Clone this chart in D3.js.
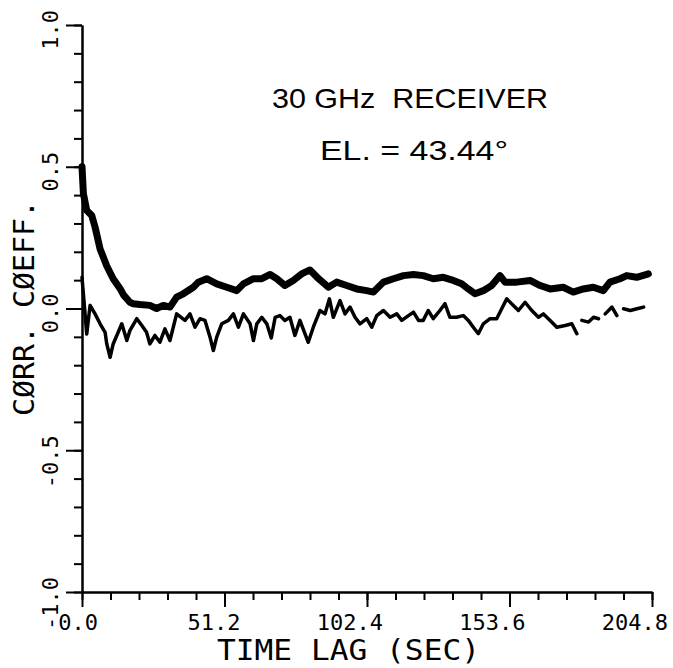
<!DOCTYPE html>
<html>
<head>
<meta charset="utf-8">
<script src="https://cdn.jsdelivr.net/npm/d3@7"></script>
<style>
  html, body { margin: 0; padding: 0; background: #fff; }
  svg { display: block; }
  .tick-label { font-family: "DejaVu Sans Mono", monospace; font-size: 22px; fill: #000; }
  .axis-title { font-family: "DejaVu Sans Mono", monospace; fill: #000; }
  .note { font-family: "Liberation Sans", Arial, sans-serif; font-size: 28px; fill: #000; }
</style>
</head>
<body>
<svg id="chart" width="673" height="668"></svg>
<script>
// Correlation coefficient vs. time lag, 30 GHz receiver
const xTickLabels = ["0.0", "51.2", "102.4", "153.6", "204.8"];
const yTickLabels = ["-1.0", "-0.5", "0.0", "0.5", "1.0"];

// Upper trace (heavy line)
const upperLag = [0, 0.5, 1.7, 3.5, 4.7, 6.5, 8.9, 11.2, 13.7, 14.9, 17.2, 18.4, 20.8, 24.4, 26.8, 29.2,
  31.6, 34.0, 36.4, 40.0, 41.8, 44.8, 48.4, 52.0, 55.6, 58.0, 61.6, 64.6, 67.6, 70.0, 72.9,
  75.9, 78.9, 81.9, 85.0, 88.5, 91.5, 95.1, 98.7, 102.3, 104.7, 108.3, 111.9, 115.5, 119.1, 122.6,
  126.2, 129.8, 133.4, 136.4, 138.8, 141.2, 144.2, 147.2, 150.2, 152.0, 156.2, 161.0, 164.6, 168.2,
  172.9, 176.5, 180.1, 183.7, 187.3, 189.7, 193.3, 195.7, 199.3, 203.5];
const upperCoeff = [0.50, 0.405, 0.346, 0.328, 0.287, 0.210, 0.150, 0.105, 0.070, 0.048, 0.022, 0.017, 0.014, 0.011, 0.0, 0.011,
  0.005, 0.040, 0.052, 0.075, 0.093, 0.105, 0.087, 0.075, 0.063, 0.087, 0.105, 0.105, 0.120, 0.105, 0.081,
  0.099, 0.122, 0.136, 0.105, 0.075, 0.093, 0.081, 0.069, 0.063, 0.058, 0.093, 0.105, 0.116, 0.120, 0.116,
  0.105, 0.110, 0.099, 0.087, 0.069, 0.052, 0.063, 0.081, 0.116, 0.093, 0.093, 0.099, 0.081, 0.069,
  0.075, 0.058, 0.069, 0.075, 0.063, 0.093, 0.105, 0.116, 0.110, 0.122];

// Lower trace (light line); null marks a pen lift
const lowerLag = [0, 1.7, 2.9, 4.7, 6.5, 8.3, 8.9, 10.1, 11.2, 13.0, 14.3, 16.1, 17.2, 19.7, 21.5,
  23.2, 24.4, 26.2, 28.0, 29.8, 31.6, 34.0, 37.0, 38.8, 40.6, 42.4, 44.2, 46.0, 47.2, 48.4,
  50.2, 52.6, 54.4, 56.2, 58.0, 60.4, 61.6, 62.8, 64.6, 66.4, 68.0, 69.4, 71.1, 72.9, 74.7,
  76.5, 78.3, 80.1, 81.3, 83.1, 85.5, 87.3, 88.9, 90.3, 92.7, 94.5, 96.3, 98.1, 99.9,
  102.3, 104.1, 105.9, 108.3, 110.7, 113.1, 114.9, 117.3, 119.1, 120.9, 122.6, 124.4, 126.2, 128.6,
  130.4, 132.2, 134.6, 137.0, 138.8, 140.6, 142.4, 144.2, 146.6, 149.0, 150.8, 152.6, 155.0, 156.8,
  159.2, 161.6, 164.0, 165.8, 168.2, 170.6, 173.6, 176.0, 177.8, 178.9, 179.6, 182.0, 183.8, 185.6, 187.0, 188.0,
  190.4, 192.2, 193.4, 194.6, 197.0, 199.4, 201.8];
const lowerCoeff = [0.11, -0.09, 0.011, -0.019, -0.054, -0.084, -0.125, -0.172, -0.125, -0.084, -0.054, -0.113, -0.078, -0.036, -0.060,
  -0.084, -0.125, -0.095, -0.119, -0.072, -0.113, -0.019, -0.042, -0.019, -0.066, -0.036, -0.042, -0.101, -0.148, -0.101,
  -0.054, -0.042, -0.019, -0.066, -0.019, -0.054, -0.113, -0.054, -0.031, -0.054, -0.104, -0.031, -0.025, -0.042, -0.031,
  -0.095, -0.042, -0.089, -0.119, -0.066, -0.007, -0.019, 0.034, -0.031, 0.028, -0.019, 0.005, -0.031, -0.054,
  -0.036, -0.066, -0.025, -0.007, -0.031, -0.019, -0.042, -0.025, -0.013, -0.042, -0.042, -0.007, -0.036, -0.007,
  0.017, -0.031, -0.031, -0.025, -0.042, -0.066, -0.089, -0.054, -0.036, -0.036, -0.001, 0.034, 0.011, -0.007,
  0.022, -0.007, -0.031, -0.019, -0.042, -0.066, -0.060, -0.054, -0.089, null, -0.042, -0.048, -0.031, -0.036, null, -0.019,
  0.005, -0.025, null, -0.001, -0.007, -0.001, 0.005];

const svg = d3.select("#chart");

const x = d3.scaleLinear().domain([0, 204.8]).range([82, 652]);
const y = d3.scaleLinear().domain([-1, 1]).range([592, 25]);

const xMajor = xTickLabels.map(Number);
const yMajor = yTickLabels.map(Number);
const xMinor = d3.range(0, 21).map(i => i * 10.24);
const yMinor = d3.range(0, 21).map(i => -1 + i * 0.1);

function styleAxis(g) {
  g.selectAll("path, line").attr("stroke", "#000").attr("stroke-width", 2);
  g.selectAll("text").remove();
}

// Y axis: short ticks every 0.1, long ticks every 0.5
svg.append("g").attr("transform", "translate(82,0)")
  .call(d3.axisLeft(y).tickValues(yMinor).tickSize(8).tickSizeOuter(0).tickFormat(""))
  .call(styleAxis);
svg.append("g").attr("transform", "translate(82,0)")
  .call(d3.axisLeft(y).tickValues(yMajor).tickSize(16).tickSizeOuter(0).tickFormat(""))
  .call(styleAxis);

// X axis: short ticks every 10.24 s, long ticks every 51.2 s
svg.append("g").attr("transform", "translate(0,592)")
  .call(d3.axisBottom(x).tickValues(xMinor).tickSize(8).tickSizeOuter(0).tickFormat(""))
  .call(styleAxis);
svg.append("g").attr("transform", "translate(0,592)")
  .call(d3.axisBottom(x).tickValues(xMajor).tickSize(15).tickSizeOuter(0).tickFormat(""))
  .call(styleAxis);

// Tick labels, right-aligned as on a pen plotter
svg.append("g").selectAll("text").data(yTickLabels).join("text")
  .attr("class", "tick-label")
  .attr("text-anchor", "end")
  .attr("transform", d => `translate(58,${y(+d) - 15}) rotate(-90)`)
  .text(d => d);

svg.append("g").selectAll("text").data(xTickLabels).join("text")
  .attr("class", "tick-label")
  .attr("text-anchor", "end")
  .attr("x", d => x(+d) + 16)
  .attr("y", 630)
  .text(d => d);

// Axis titles
svg.append("text").attr("class", "axis-title")
  .attr("font-size", 29)
  .attr("x", 217).attr("y", 660)
  .attr("textLength", 263).attr("lengthAdjust", "spacingAndGlyphs")
  .text("TIME LAG (SEC)");

svg.append("text").attr("class", "axis-title")
  .attr("font-size", 28)
  .attr("transform", "translate(34,416) rotate(-90)")
  .attr("textLength", 216).attr("lengthAdjust", "spacingAndGlyphs")
  .text("CØRR. CØEFF.");

// Annotations
svg.append("text").attr("class", "note")
  .attr("x", 272).attr("y", 108)
  .attr("textLength", 276).attr("lengthAdjust", "spacingAndGlyphs")
  .attr("xml:space", "preserve")
  .text("30 GHz  RECEIVER");
svg.append("text").attr("class", "note")
  .attr("x", 320).attr("y", 160)
  .attr("textLength", 188).attr("lengthAdjust", "spacingAndGlyphs")
  .attr("xml:space", "preserve")
  .text("EL. = 43.44°");

// Traces
const line = d3.line()
  .defined(d => d[1] != null)
  .x(d => x(d[0])).y(d => y(d[1]));
const upper = upperLag.map((t, i) => [t, upperCoeff[i]]);
const lower = lowerLag.map((t, i) => [t, lowerCoeff[i]]);

svg.append("path").datum(lower)
  .attr("fill", "none").attr("stroke", "#000").attr("stroke-width", 3.5)
  .attr("stroke-linejoin", "round").attr("stroke-linecap", "round")
  .attr("d", line);

svg.append("path").datum(upper)
  .attr("fill", "none").attr("stroke", "#000").attr("stroke-width", 7)
  .attr("stroke-linejoin", "round").attr("stroke-linecap", "round")
  .attr("d", line);
</script>
</body>
</html>
